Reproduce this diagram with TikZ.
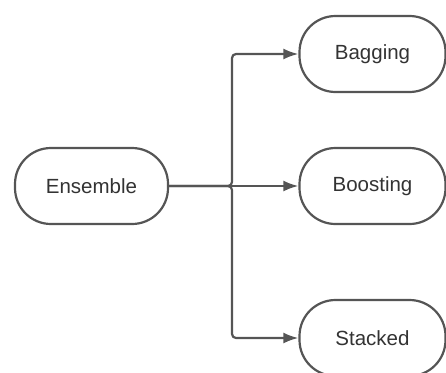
\documentclass[tikz,border=0pt]{standalone}
\usepackage{fontspec}
\setmainfont{Liberation Sans}
\usetikzlibrary{arrows.meta}
\definecolor{linec}{HTML}{555555}
\definecolor{textc}{HTML}{333333}
\begin{document}
\begin{tikzpicture}[x=1pt,y=-1pt,
  pill/.style={draw=linec,line width=2.2pt,rounded corners=36pt,fill=white,
    minimum height=76pt,inner sep=0pt,font=\fontsize{20.5pt}{24pt}\selectfont,text=textc},
  conn/.style={draw=linec,line width=2.2pt,-{Latex[length=15pt,width=11pt]},rounded corners=4pt}]
\useasboundingbox (0,0) rectangle (446,372);
\clip (0,0) rectangle (446,372);
\node[pill,minimum width=153pt] (ens) at (91.5,186) {Ensemble};
\node[pill,minimum width=146pt] (bag) at (372.5,54) {Bagging};
\node[pill,minimum width=146pt] (boo) at (372.5,186) {Boosting};
\node[pill,minimum width=146pt] (sta) at (372.5,338) {Stacked};
\coordinate (j) at (232,186);
\draw[conn] (ens.east) -- (j) |- (bag.west);
\draw[conn] (ens.east) -- (j) |- (sta.west);
\draw[conn] (ens.east) -- (boo.west);
\end{tikzpicture}
\end{document}
